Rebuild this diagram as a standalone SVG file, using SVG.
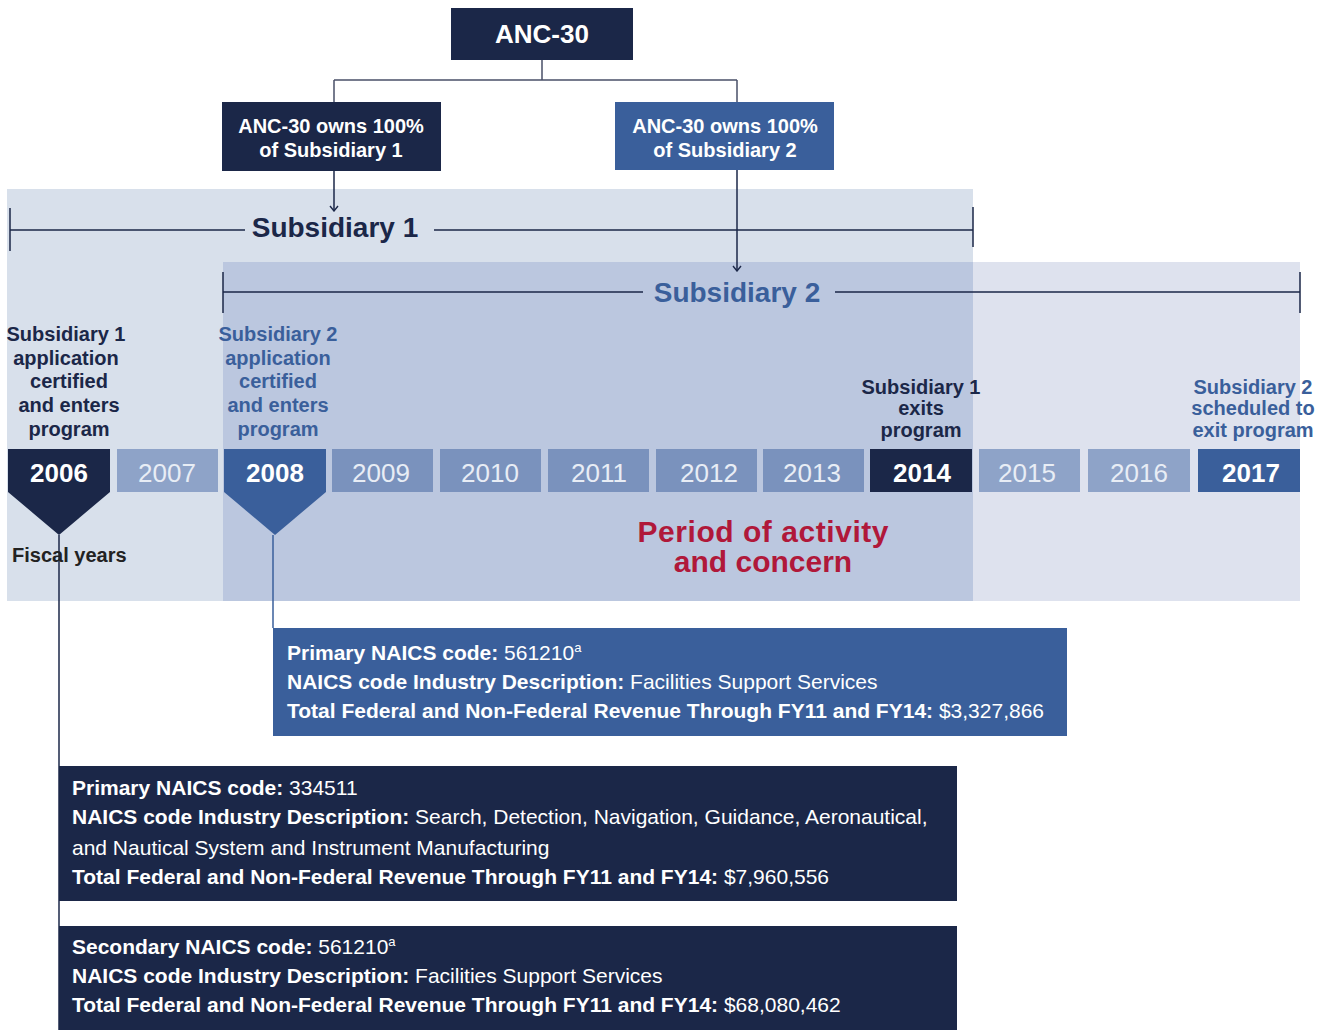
<svg xmlns="http://www.w3.org/2000/svg" width="1324" height="1030" viewBox="0 0 1324 1030">
<defs>
<style>
text{font-family:"Liberation Sans",Arial,sans-serif}
.navy{fill:#1b2748}
.blue{fill:#3a5f9b}
.wt{fill:#fff;font-weight:bold;text-anchor:middle}
.lbl1{fill:#1b2748;font-weight:bold;font-size:20px;text-anchor:middle}
.lbl2{fill:#3a5f9b;font-weight:bold;font-size:20px;text-anchor:middle}
.yr{font-size:26px;text-anchor:middle;fill:#e8edf5}
.yrb{font-size:26px;text-anchor:middle;fill:#fff;font-weight:bold}
.yl{fill:#8ea3c8}
.yd{fill:#7a92bd}
.det{fill:#fff;font-size:21px}
.det tspan.b{font-weight:bold}
.ln{fill:none;stroke:#4a5068;stroke-width:1.5}
.tl{fill:none;stroke:#1b2748;stroke-width:1.5}
</style>
<marker id="ah" viewBox="0 0 10 10" refX="9" refY="5" markerWidth="10" markerHeight="10" markerUnits="userSpaceOnUse" orient="auto">
<path d="M4,1 L9,5 L4,9" fill="none" stroke="#1b2748" stroke-width="1.4"/>
</marker>
</defs>

<!-- background panels -->
<g id="panels">
<rect x="7" y="189" width="966" height="412" fill="#d8e0eb"/>
<rect x="223" y="262" width="750" height="339" fill="#bbc7df"/>
<rect x="973" y="262" width="327" height="339" fill="#dee2ee"/>
</g>

<g id="connectors">
<path class="ln" d="M542,60 V80 M334,80 H737 M334,80 V102 M737,80 V102"/>
<path class="tl" d="M334,171 V211" marker-end="url(#ah)"/>
<path class="tl" d="M737,170 V271" marker-end="url(#ah)"/>
<path d="M59,535 V1030" stroke="#1b2748" stroke-width="1.5"/>
<path d="M273,535 V628" stroke="#3a5f9b" stroke-width="1.5"/>
</g>

<g id="timeline-bars">
<path class="tl" d="M10,230 H245 M434,230 H973 M10,208 V251 M973,207 V247"/>
<text x="335" y="237" text-anchor="middle" font-size="28" font-weight="bold" fill="#1b2748">Subsidiary 1</text>
<path class="tl" d="M223,292 H643 M835,292 H1300 M223,272 V313 M1300,272 V313"/>
<text x="737" y="302" text-anchor="middle" font-size="28" font-weight="bold" fill="#3a5f9b">Subsidiary 2</text>
</g>

<g id="anc30">
<rect class="navy" x="451" y="8" width="182" height="52"/>
<text class="wt" x="542" y="43" font-size="26">ANC-30</text>
</g>
<g id="owns1">
<rect class="navy" x="222" y="102" width="219" height="69"/>
<text class="wt" x="331" y="133" font-size="20">ANC-30 owns 100%</text>
<text class="wt" x="331" y="157" font-size="20">of Subsidiary 1</text>
</g>
<g id="owns2">
<rect class="blue" x="615" y="102" width="219" height="68"/>
<text class="wt" x="725" y="133" font-size="20">ANC-30 owns 100%</text>
<text class="wt" x="725" y="157" font-size="20">of Subsidiary 2</text>
</g>

<g id="event-labels">
<text class="lbl1" x="66" y="341">Subsidiary 1</text>
<text class="lbl1" x="66" y="365">application</text>
<text class="lbl1" x="69" y="388">certified</text>
<text class="lbl1" x="69" y="412">and enters</text>
<text class="lbl1" x="69" y="436">program</text>
<text class="lbl2" x="278" y="341">Subsidiary 2</text>
<text class="lbl2" x="278" y="365">application</text>
<text class="lbl2" x="278" y="388">certified</text>
<text class="lbl2" x="278" y="412">and enters</text>
<text class="lbl2" x="278" y="436">program</text>
<text class="lbl1" x="921" y="394">Subsidiary 1</text>
<text class="lbl1" x="921" y="415">exits</text>
<text class="lbl1" x="921" y="437">program</text>
<text class="lbl2" x="1253" y="394">Subsidiary 2</text>
<text class="lbl2" x="1253" y="415">scheduled to</text>
<text class="lbl2" x="1253" y="437">exit program</text>
</g>

<g id="years">
<g id="y2006"><path class="navy" d="M8,449 H110 V492 L59,535 L8,492 Z"/><text class="yrb" x="59" y="482">2006</text></g>
<g id="y2007"><rect class="yl" x="117" y="449" width="101" height="43"/><text class="yr" x="167" y="482">2007</text></g>
<g id="y2008"><path class="blue" d="M224,449 H326 V492 L275,535 L224,492 Z"/><text class="yrb" x="275" y="482">2008</text></g>
<g id="y2009"><rect class="yd" x="332" y="449" width="101" height="43"/><text class="yr" x="381" y="482">2009</text></g>
<g id="y2010"><rect class="yd" x="440" y="449" width="101" height="43"/><text class="yr" x="490" y="482">2010</text></g>
<g id="y2011"><rect class="yd" x="548" y="449" width="101" height="43"/><text class="yr" x="599" y="482">2011</text></g>
<g id="y2012"><rect class="yd" x="656" y="449" width="101" height="43"/><text class="yr" x="709" y="482">2012</text></g>
<g id="y2013"><rect class="yd" x="763" y="449" width="101" height="43"/><text class="yr" x="812" y="482">2013</text></g>
<g id="y2014"><rect class="navy" x="870" y="449" width="102" height="43"/><text class="yrb" x="922" y="482">2014</text></g>
<g id="y2015"><rect class="yl" x="979" y="449" width="101" height="43"/><text class="yr" x="1027" y="482">2015</text></g>
<g id="y2016"><rect class="yl" x="1088" y="449" width="102" height="43"/><text class="yr" x="1139" y="482">2016</text></g>
<g id="y2017"><rect class="blue" x="1198" y="449" width="102" height="43"/><text class="yrb" x="1251" y="482">2017</text></g>
</g>

<g id="fiscal-years">
<text x="12" y="562" font-size="20" font-weight="bold" fill="#222">Fiscal years</text>
</g>

<g id="period">
<text x="763" y="542" text-anchor="middle" font-size="30" font-weight="bold" fill="#b0183a" textLength="251">Period of activity</text>
<text x="763" y="572" text-anchor="middle" font-size="30" font-weight="bold" fill="#b0183a">and concern</text>
</g>

<g id="sub2-info">
<rect class="blue" x="273" y="628" width="794" height="108"/>
<text class="det" x="287" y="660"><tspan class="b">Primary NAICS code:</tspan> 561210<tspan font-size="13" dy="-8">a</tspan></text>
<text class="det" x="287" y="689"><tspan class="b">NAICS code Industry Description:</tspan> Facilities Support Services</text>
<text class="det" x="287" y="718"><tspan class="b">Total Federal and Non-Federal Revenue Through FY11 and FY14:</tspan> $3,327,866</text>
</g>

<g id="sub1-primary">
<rect class="navy" x="59" y="766" width="898" height="135"/>
<text class="det" x="72" y="795"><tspan class="b">Primary NAICS code:</tspan> 334511</text>
<text class="det" x="72" y="824"><tspan class="b">NAICS code Industry Description:</tspan> Search, Detection, Navigation, Guidance, Aeronautical,</text>
<text class="det" x="72" y="855">and Nautical System and Instrument Manufacturing</text>
<text class="det" x="72" y="884"><tspan class="b">Total Federal and Non-Federal Revenue Through FY11 and FY14:</tspan> $7,960,556</text>
</g>

<g id="sub1-secondary">
<rect class="navy" x="59" y="926" width="898" height="104"/>
<text class="det" x="72" y="954"><tspan class="b">Secondary NAICS code:</tspan> 561210<tspan font-size="13" dy="-8">a</tspan></text>
<text class="det" x="72" y="983"><tspan class="b">NAICS code Industry Description:</tspan> Facilities Support Services</text>
<text class="det" x="72" y="1012"><tspan class="b">Total Federal and Non-Federal Revenue Through FY11 and FY14:</tspan> $68,080,462</text>
</g>
</svg>
